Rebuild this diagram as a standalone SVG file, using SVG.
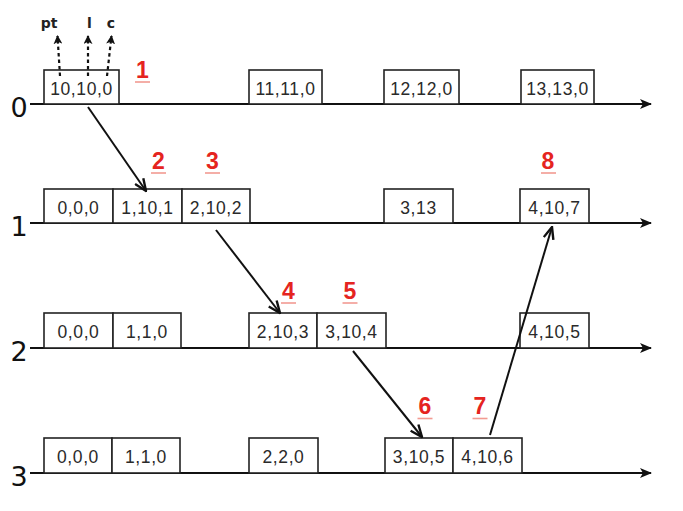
<svg xmlns="http://www.w3.org/2000/svg" width="683" height="511" viewBox="0 0 683 511">
<style>
.bg{fill:#fff}
.box rect{fill:#fff;stroke:#222;stroke-width:1.6}
.box text{font-family:"Liberation Sans",Arial,sans-serif;font-size:17.5px;letter-spacing:0.6px;fill:#2a2a2a;text-anchor:middle}
.tl{stroke:#111;stroke-width:2;fill:none}
.row{font-family:"DejaVu Sans",sans-serif;font-size:27px;fill:#111;text-anchor:middle}
.num text{font-family:"Liberation Sans",sans-serif;font-weight:bold;font-size:23px;fill:#e52420;text-anchor:middle}
.num line{stroke:#f29a92;stroke-width:1.6}
.msg{stroke:#111;stroke-width:2;fill:none}
.dash{stroke:#111;stroke-width:2.2;stroke-dasharray:3.5,3;fill:none}
.lab{font-family:"DejaVu Sans",sans-serif;font-weight:bold;font-size:14px;fill:#222;text-anchor:middle}
</style>
<defs>
<marker id="tip" viewBox="0 0 12 10" refX="11" refY="5" markerWidth="12" markerHeight="10" markerUnits="userSpaceOnUse" orient="auto">
<path d="M0,0 L12,5 L0,10 L3,5 Z" fill="#111"/>
</marker>
<marker id="open" viewBox="0 0 14 12" refX="13" refY="6" markerWidth="14" markerHeight="12" markerUnits="userSpaceOnUse" orient="auto">
<path d="M1,1 L13,6 L1,11" fill="none" stroke="#111" stroke-width="2.4"/>
</marker>
<marker id="small" viewBox="0 0 10 10" refX="9" refY="5" markerWidth="9" markerHeight="9" markerUnits="userSpaceOnUse" orient="auto">
<path d="M0,0 L10,5 L0,10 L2.5,5 Z" fill="#111"/>
</marker>
</defs>
<rect class="bg" x="0" y="0" width="683" height="511"/>

<g id="timelines">
<line class="tl" x1="30" y1="104" x2="651" y2="104" marker-end="url(#tip)"/>
<line class="tl" x1="30" y1="223" x2="651" y2="223" marker-end="url(#tip)"/>
<line class="tl" x1="30" y1="348" x2="651" y2="348" marker-end="url(#tip)"/>
<line class="tl" x1="30" y1="473" x2="651" y2="473" marker-end="url(#tip)"/>
<text class="row" x="19" y="117">0</text>
<text class="row" x="19" y="236">1</text>
<text class="row" x="19" y="361">2</text>
<text class="row" x="19" y="486">3</text>
</g>

<g id="n0a" class="box"><rect x="44" y="70" width="75" height="34"/><text x="81.5" y="95">10,10,0</text></g>
<g id="n0b" class="box"><rect x="249" y="70" width="73" height="34"/><text x="285.5" y="95">11,11,0</text></g>
<g id="n0c" class="box"><rect x="384" y="70" width="75" height="34"/><text x="421.5" y="95">12,12,0</text></g>
<g id="n0d" class="box"><rect x="521" y="70" width="73" height="34"/><text x="557.5" y="95">13,13,0</text></g>

<g id="n1a" class="box"><rect x="44" y="189" width="69" height="34"/><text x="78.5" y="213.5">0,0,0</text></g>
<g id="n1b" class="box"><rect x="113" y="189" width="69" height="34"/><text x="147.5" y="213.5">1,10,1</text></g>
<g id="n1c" class="box"><rect x="182" y="189" width="68" height="34"/><text x="216" y="213.5">2,10,2</text></g>
<g id="n1d" class="box"><rect x="384" y="189" width="69" height="34"/><text x="418.5" y="213.5">3,13</text></g>
<g id="n1e" class="box"><rect x="520" y="189" width="69" height="34"/><text x="554.5" y="213.5">4,10,7</text></g>

<g id="n2a" class="box"><rect x="44" y="313" width="69" height="35"/><text x="78.5" y="338">0,0,0</text></g>
<g id="n2b" class="box"><rect x="113" y="313" width="68" height="35"/><text x="147" y="338">1,1,0</text></g>
<g id="n2c" class="box"><rect x="249" y="313" width="68" height="35"/><text x="283" y="338">2,10,3</text></g>
<g id="n2d" class="box"><rect x="317" y="313" width="69" height="35"/><text x="351.5" y="338">3,10,4</text></g>
<g id="n2e" class="box"><rect x="520" y="313" width="69" height="35"/><text x="554.5" y="338">4,10,5</text></g>

<g id="n3a" class="box"><rect x="44" y="438" width="68" height="35"/><text x="78" y="463">0,0,0</text></g>
<g id="n3b" class="box"><rect x="112" y="438" width="68" height="35"/><text x="146" y="463">1,1,0</text></g>
<g id="n3c" class="box"><rect x="249" y="438" width="69" height="35"/><text x="283.5" y="463">2,2,0</text></g>
<g id="n3d" class="box"><rect x="385" y="438" width="68" height="35"/><text x="419" y="463">3,10,5</text></g>
<g id="n3e" class="box"><rect x="453" y="438" width="69" height="35"/><text x="487.5" y="463">4,10,6</text></g>

<g id="connectors">
<line class="msg" x1="88" y1="107" x2="146" y2="191" marker-end="url(#open)"/>
<line class="msg" x1="216" y1="230" x2="280" y2="313" marker-end="url(#open)"/>
<line class="msg" x1="353" y1="351" x2="422" y2="437" marker-end="url(#open)"/>
<line class="msg" x1="490" y1="435" x2="552" y2="227" marker-end="url(#open)"/>
<line class="dash" x1="60" y1="76" x2="57.5" y2="36" marker-end="url(#small)"/>
<line class="dash" x1="88" y1="76" x2="88" y2="36" marker-end="url(#small)"/>
<line class="dash" x1="107" y1="76" x2="111.5" y2="36" marker-end="url(#small)"/>
</g>

<g id="labels">
<text class="lab" x="49" y="28">pt</text>
<text class="lab" x="89.5" y="28">l</text>
<text class="lab" x="111" y="28">c</text>
</g>

<g id="steps" class="num">
<text x="142.5" y="78">1</text><line x1="135" y1="82" x2="150" y2="82"/>
<text x="158.5" y="169">2</text><line x1="151" y1="173" x2="166" y2="173"/>
<text x="212.5" y="169">3</text><line x1="205" y1="173" x2="220" y2="173"/>
<text x="288.5" y="299">4</text><line x1="281" y1="303" x2="296" y2="303"/>
<text x="350" y="299">5</text><line x1="342.5" y1="303" x2="357.5" y2="303"/>
<text x="425" y="414">6</text><line x1="417.5" y1="418.5" x2="432.5" y2="418.5"/>
<text x="480" y="414">7</text><line x1="472.5" y1="418.5" x2="487.5" y2="418.5"/>
<text x="548" y="169">8</text><line x1="541" y1="173" x2="556" y2="173"/>
</g>
</svg>
